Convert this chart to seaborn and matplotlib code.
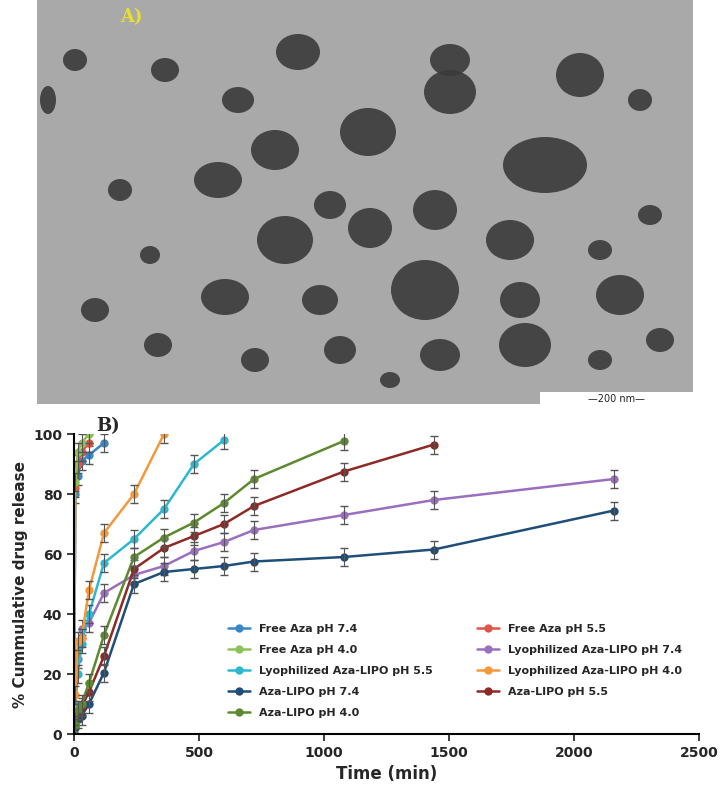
import matplotlib
matplotlib.use("Agg")
import matplotlib.pyplot as plt
import seaborn as sns
import pandas as pd
from matplotlib.patches import Ellipse, Rectangle

sns.set_theme(style="white")
plt.rcParams['font.family'] = ['DejaVu Sans']

t_free74 = [0, 5, 15, 30, 60, 120]
free74 = [0, 80, 86, 91, 93, 97]
t_free55 = [0, 5, 15, 30, 60]
free55 = [0, 82, 90, 94, 97]
t_free40 = [0, 5, 15, 30, 60]
free40 = [0, 84, 94, 97, 100]
t_lyo74 = [0, 5, 15, 30, 60, 120, 240, 360, 480, 600, 720, 1080, 1440, 2160]
lyo74 = [0, 8, 25, 35, 37, 47, 53, 56, 61, 64, 68, 73, 78, 85]
t_lyo55 = [0, 5, 15, 30, 60, 120, 240, 360, 480, 600]
lyo55 = [0, 10, 20, 30, 40, 57, 65, 75, 90, 98]
t_lyo40 = [0, 5, 15, 30, 60, 120, 240, 360]
lyo40 = [0, 13, 31, 32, 48, 67, 80, 100]
t_lipo74 = [0, 5, 15, 30, 60, 120, 240, 360, 480, 600, 720, 1080, 1440, 2160]
lipo74 = [0, 2, 5, 6, 10, 20.5, 50, 54, 55, 56, 57.5, 59, 61.5, 74.5]
t_lipo55 = [0, 5, 15, 30, 60, 120, 240, 360, 480, 600, 720, 1080, 1440]
lipo55 = [0, 3, 7, 9, 14, 26, 55, 62, 66, 70, 76, 87.5, 96.5]
t_lipo40 = [0, 5, 15, 30, 60, 120, 240, 360, 480, 600, 720, 1080]
lipo40 = [0, 3, 8, 10, 17, 33, 59, 65.5, 70.5, 77, 85, 97.7]

series = [
    ("Free Aza pH 7.4", t_free74, free74, "#3a87c8"),
    ("Free Aza pH 5.5", t_free55, free55, "#e0554a"),
    ("Free Aza pH 4.0", t_free40, free40, "#8dc25a"),
    ("Lyophilized Aza-LIPO pH 7.4", t_lyo74, lyo74, "#9a6fc0"),
    ("Lyophilized Aza-LIPO pH 5.5", t_lyo55, lyo55, "#2bb8d0"),
    ("Lyophilized Aza-LIPO pH 4.0", t_lyo40, lyo40, "#f5983a"),
    ("Aza-LIPO pH 7.4", t_lipo74, lipo74, "#1f4e79"),
    ("Aza-LIPO pH 5.5", t_lipo55, lipo55, "#8e2a25"),
    ("Aza-LIPO pH 4.0", t_lipo40, lipo40, "#5c8a2e"),
]

# TEM micrograph particles (x, y, rx, ry) in image pixel units
particles = [(75, 60, 12, 11), (165, 70, 14, 12), (298, 52, 22, 18), (450, 60, 20, 16),
             (580, 75, 24, 22), (238, 100, 16, 13), (450, 92, 26, 22), (640, 100, 12, 11),
             (368, 132, 28, 24), (275, 150, 24, 20), (545, 165, 42, 28), (218, 180, 24, 18),
             (120, 190, 12, 11), (330, 205, 16, 14), (435, 210, 22, 20), (650, 215, 12, 10),
             (370, 228, 22, 20), (285, 240, 28, 24), (510, 240, 24, 20), (600, 250, 12, 10),
             (150, 255, 10, 9), (425, 290, 34, 30), (225, 297, 24, 18), (320, 300, 18, 15),
             (520, 300, 20, 18), (620, 295, 24, 20), (95, 310, 14, 12), (158, 345, 14, 12),
             (440, 355, 20, 16), (525, 345, 26, 22), (340, 350, 16, 14), (255, 360, 14, 12),
             (600, 360, 12, 10), (660, 340, 14, 12), (390, 380, 10, 8), (48, 100, 8, 14)]

fig = plt.figure(figsize=(7.21, 8.0), dpi=100)
axi = fig.add_axes([37/721, 1 - 404/800, 656/721, 404/800])
axi.set_xlim(37, 693)
axi.set_ylim(404, 0)
axi.set_facecolor("#a9a9a9")
for (x, y, rx, ry) in particles:
    axi.add_patch(Ellipse((x, y), 2*rx, 2*ry, color="#3a3a3a", alpha=0.9, lw=0))
axi.add_patch(Rectangle((540, 392), 153, 12, color="white", lw=0))
axi.text(616, 399, "—200 nm—", ha="center", va="center", fontsize=7, color="#222")
axi.text(120, 22, "A)", fontsize=13, fontweight="bold", color="#e8e030", family="DejaVu Serif")
axi.set_xticks([]); axi.set_yticks([])
for s in axi.spines.values():
    s.set_visible(False)

ax = fig.add_axes([74/721, 1 - 734/800, 625/721, 300/800])
handles = {}
for name, t, v, c in series:
    df = pd.DataFrame({"t": t, "v": v})
    sns.lineplot(data=df, x="t", y="v", ax=ax, color=c, marker="o", markersize=6,
                 markeredgewidth=0, linewidth=1.8, label=name)
    ax.errorbar(t, v, yerr=3, fmt="none", ecolor="#555", elinewidth=0.8, capsize=3)
ax.set_xlim(0, 2500)
ax.set_ylim(0, 100)
ax.set_xticks(range(0, 2501, 500))
ax.set_yticks(range(0, 101, 20))
ax.tick_params(axis="both", labelsize=10, length=5, direction="out", bottom=True, left=True)
for lab in ax.get_xticklabels() + ax.get_yticklabels():
    lab.set_fontweight("bold")
ax.set_xlabel("Time (min)", fontsize=12, fontweight="bold", labelpad=4)
ax.set_ylabel("% Cummulative drug release", fontsize=11, fontweight="bold")
for s in ["top", "right"]:
    ax.spines[s].set_visible(False)
for s in ["left", "bottom"]:
    ax.spines[s].set_color("black"); ax.spines[s].set_linewidth(1.5)
ax.text(90, 101, "B)", fontsize=13, fontweight="bold", family="DejaVu Serif")
h, l = ax.get_legend_handles_labels()
order = [0, 2, 4, 6, 8, 1, 3, 5, 7]
leg = ax.legend([h[i] for i in order], [l[i] for i in order], ncol=2, loc="lower left",
                bbox_to_anchor=(0.23, 0.02), frameon=False,
                fontsize=8, columnspacing=4, handlelength=2, labelspacing=1.0)
for txt in leg.get_texts():
    txt.set_fontweight("bold")
fig.savefig("out.png", dpi=100)
